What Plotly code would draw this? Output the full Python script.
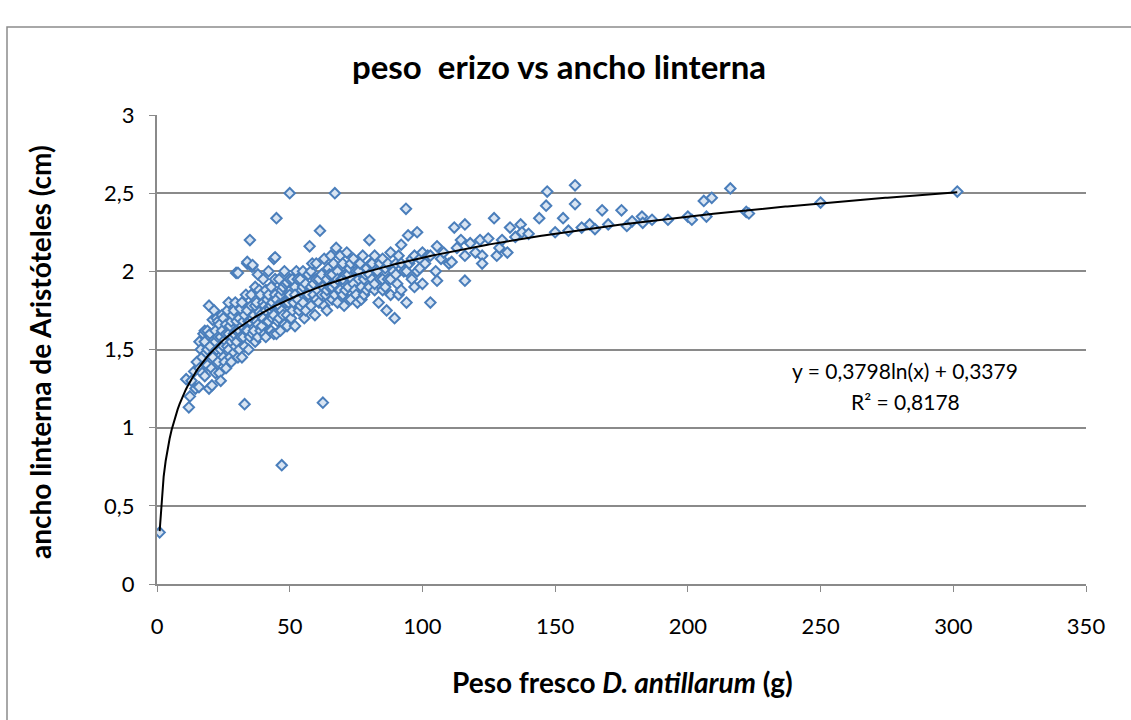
import numpy as np
import plotly.graph_objects as go

# (peso fresco g, ancho linterna cm)
puntos_bajos = [
    (1, 0.33), (11, 1.31), (12, 1.13), (12.4, 1.2), (13, 1.3), (14, 1.36), (14.5, 1.25),
    (15, 1.42), (15.8, 1.26), (16, 1.38), (16, 1.55), (16.5, 1.5), (17, 1.45), (17, 1.35),
    (17.5, 1.6), (18, 1.33), (18, 1.55), (18, 1.62), (18.5, 1.48), (19, 1.4), (19, 1.62),
    (19, 1.5), (19.6, 1.25), (19.6, 1.78), (20, 1.52), (20, 1.6), (20.5, 1.38), (20.7, 1.27),
]
puntos_densos = [
    (21, 1.69), (21, 1.45), (21.5, 1.56), (21.5, 1.75), (22, 1.35), (22, 1.62), (22, 1.55),
    (22.5, 1.5), (22.5, 1.7), (23, 1.42), (23, 1.58), (23, 1.68), (23.5, 1.66), (23.5, 1.35),
    (24, 1.3), (24, 1.5), (24, 1.58), (24.5, 1.62), (24.5, 1.72), (25, 1.45), (25, 1.7),
    (25, 1.52), (25.5, 1.56), (25.5, 1.42), (26, 1.38), (26, 1.6), (26, 1.66), (26.5, 1.75),
    (26.5, 1.52), (27, 1.5), (27, 1.8), (27, 1.6), (27.5, 1.65), (27.5, 1.45), (28, 1.42),
    (28, 1.55), (28, 1.68), (28.5, 1.72), (28.5, 1.58), (29, 1.6), (29, 1.48), (29, 1.75),
    (29.5, 1.8), (29.5, 1.52), (29.8, 1.99), (30, 1.55), (30, 1.68), (30, 1.62), (30.5, 1.99),
    (30.5, 1.45), (31, 1.62), (31, 1.5), (31, 1.7), (31.5, 1.76), (31.5, 1.58), (32, 1.45),
    (32, 1.65), (32, 1.8), (32.5, 1.58), (32.5, 1.68), (33, 1.15), (33, 1.72), (33, 1.52),
    (33.5, 1.85), (33.5, 1.62), (34, 1.62), (34, 2.05), (34, 1.75), (34, 2.06), (34.5, 1.5),
    (34.5, 1.68), (35, 1.68), (35, 2.2), (35, 1.58), (35.5, 1.78), (35.5, 1.85), (35.8, 2.03),
    (36, 1.6), (36, 2.04), (36, 1.7), (36.5, 1.72), (36.5, 1.62), (37, 1.55), (37, 1.9),
    (37, 1.78), (37.5, 1.8), (37.5, 1.68), (38, 1.66), (38, 1.98), (38, 1.58), (38.5, 1.74),
    (38.5, 1.88), (39, 1.62), (39, 1.85), (39, 1.72), (39.5, 1.65), (40, 1.7), (40, 1.95),
    (40, 1.8), (40.5, 1.78), (40.5, 1.6), (41, 1.58), (41, 1.88), (41, 1.75), (41.5, 1.82),
    (41.5, 1.68), (42, 1.68), (42, 2.0), (42, 1.85), (42.5, 1.76), (42.5, 1.62), (43, 1.62),
    (43, 1.9), (43, 1.78), (43.5, 1.8), (43.5, 1.7), (44, 1.72), (44, 2.08), (44, 1.6),
    (44.5, 1.85), (44.5, 1.95), (44.5, 2.09), (45, 1.6), (45, 2.34), (45, 1.82), (45.5, 1.78),
    (45.5, 1.68), (46, 1.7), (46, 1.95), (46, 1.78), (46.5, 1.85), (46.5, 1.62), (47, 0.76),
    (47, 1.75), (47, 1.88), (47.5, 1.9), (47.5, 1.72), (48, 1.66), (48, 2.0), (48, 1.8),
    (48.5, 1.8), (48.5, 1.92), (49, 1.72), (49, 1.93), (49, 1.65), (49.5, 1.8), (50, 2.5),
    (50, 1.85), (50, 1.95), (50.5, 1.7), (51, 1.95), (51, 1.75), (51.5, 1.8), (52, 1.9),
    (52, 1.65), (52, 1.85), (52.5, 2.0), (53, 1.82), (53, 1.95), (53.5, 1.75), (54, 1.95),
    (54, 1.78), (54.5, 1.88), (55, 1.8), (55, 2.0), (55, 1.9), (55.5, 1.7), (56, 1.92),
    (56, 1.75), (56.5, 1.85), (57, 1.98), (57, 1.85), (57.5, 2.16), (58, 1.78), (58, 1.9),
    (58, 2.0), (58.5, 2.05), (59, 1.85), (59, 1.92), (59.5, 1.72), (60, 1.95), (60, 2.05),
    (60, 1.82), (60.5, 1.88), (61, 1.8), (61, 1.95), (61.4, 2.26), (62, 1.98), (62, 1.85),
    (62.5, 1.16), (62.5, 1.9), (63, 2.08), (63, 1.78), (63.5, 1.85), (64, 1.95), (64, 1.75),
    (64, 1.88), (64.5, 2.02), (65, 1.9), (65, 1.98), (65.5, 2.1), (66, 1.82), (66, 1.98),
    (66, 1.9), (66.5, 2.05), (67, 2.5), (67, 1.92), (67, 1.85), (67.5, 2.15), (68, 1.8),
    (68, 2.0), (68, 1.95), (68.5, 1.88), (69, 2.1), (69, 1.88), (69.5, 1.95), (70, 1.85),
    (70, 2.05), (70, 1.95), (70.5, 1.78), (71, 1.98), (71, 1.88), (71.5, 2.12), (72, 1.9),
    (72, 1.98), (72.5, 2.02), (73, 1.82), (73, 2.05), (73.5, 1.95), (74, 2.08), (74, 1.92),
    (74.5, 1.88), (75, 2.0), (75, 1.85), (75.5, 1.8), (76, 1.95), (76, 2.0), (76.5, 2.05),
    (77, 1.9), (77, 1.82), (77.5, 2.1), (78, 1.85), (78, 1.95), (78.5, 1.98), (79, 2.02),
    (79, 1.88), (80, 2.2), (80, 1.9), (80, 1.98), (80.5, 2.05),
]
puntos_medios = [
    (81, 1.95), (81, 2.05), (82, 1.88), (82, 2.1), (82, 1.92), (83, 2.0), (83.5, 1.8),
    (84, 1.95), (84, 2.05), (85, 2.08), (85, 1.88), (85, 1.95), (86, 2.02), (86, 1.9),
    (86.5, 1.75), (87, 1.95), (87, 2.05), (88, 2.12), (88, 1.85), (88, 1.95), (89, 2.0),
    (89.5, 1.7), (90, 2.05), (90, 1.98), (90.5, 1.92), (91, 2.1), (91, 1.85), (92, 2.17),
    (92, 1.88), (92, 2.05), (93, 2.0), (93.8, 2.4), (94, 1.8), (94, 2.0), (94.6, 2.23),
    (95, 2.05), (96, 1.95), (96, 2.08), (97, 2.1), (97, 1.9), (98, 2.25), (98, 2.0),
    (99, 2.08), (99, 2.02), (100, 1.92), (100, 2.12), (101, 2.05), (102, 2.1), (103, 1.8),
    (103, 2.1), (105, 2.0), (105.5, 1.94), (105.5, 2.16), (107, 2.08), (108, 2.12),
    (110, 2.05), (111, 2.06), (112, 2.28), (113, 2.15), (114.5, 2.2), (116, 2.3),
    (116, 2.1), (116, 1.94), (118, 2.18), (120, 2.12), (121.7, 2.2), (122.5, 2.1),
    (122.5, 2.05), (124.8, 2.21), (127, 2.34), (128, 2.1), (129, 2.15), (130, 2.2),
    (132, 2.12), (133, 2.28), (135, 2.22), (137, 2.3), (137.5, 2.25), (140, 2.24),
]
puntos_altos = [
    (144, 2.34), (146.6, 2.42), (147, 2.51), (150, 2.25), (153, 2.34), (155, 2.26),
    (157.5, 2.55), (157.5, 2.43), (160, 2.28), (163, 2.3), (165, 2.27), (167.7, 2.39),
    (170, 2.3), (175, 2.39), (177, 2.29), (179, 2.32), (182.7, 2.35), (183, 2.31),
    (186.5, 2.33), (192.5, 2.33), (200, 2.35), (201.5, 2.33), (206, 2.45), (207, 2.35),
    (209, 2.47), (216, 2.53), (222, 2.38), (223, 2.37), (250, 2.44), (301.5, 2.51),
]

# trendline shown on the chart: y = a ln(x) + b
coef_a = 0.3798
coef_b = 0.3379
r2 = 0.8178

x_ticks = [0, 50, 100, 150, 200, 250, 300, 350]
y_ticks = [0, 0.5, 1, 1.5, 2, 2.5, 3]

todos = puntos_bajos + puntos_densos + puntos_medios + puntos_altos
peso = [p[0] for p in todos]
ancho = [p[1] for p in todos]

FONT = "Lato"
BLUE = "#4A7EBB"
GRID = "#8A8A8A"

fig = go.Figure()
fig.add_trace(go.Scatter(
    x=peso, y=ancho, mode="markers",
    marker=dict(symbol="diamond", size=8, color="#D8E4F2",
                line=dict(color=BLUE, width=2)),
    showlegend=False, hoverinfo="x+y",
))

xt = np.linspace(min(peso), max(peso), 400)
fig.add_trace(go.Scatter(
    x=xt, y=coef_a * np.log(xt) + coef_b, mode="lines",
    line=dict(color="black", width=2), showlegend=False, hoverinfo="skip",
))

L, R, T, B = 157, 45, 115, 136
W, H = 1131, 720
pw, ph = W - L - R, H - T - B


def px(xp):
    return (xp - L) / pw


def py(yp):
    return (H - B - yp) / ph


fig.update_layout(
    width=W, height=H,
    margin=dict(l=L, r=R, t=T, b=B),
    paper_bgcolor="white", plot_bgcolor="white",
    separators=",.",
    font=dict(family=FONT, color="black", size=22),
    xaxis=dict(range=[0, 350], tickvals=x_ticks, showgrid=False, zeroline=False,
               showline=True, linecolor=GRID, linewidth=2,
               ticks="outside", ticklen=6, tickcolor=GRID, tickwidth=1,
               ticklabelstandoff=16,
               tickfont=dict(size=22, family=FONT), fixedrange=True),
    yaxis=dict(range=[0, 3], tickvals=y_ticks, showgrid=True, gridcolor=GRID,
               gridwidth=1.5, zeroline=False,
               showline=True, linecolor=GRID, linewidth=2,
               ticks="outside", ticklen=6, tickcolor=GRID, tickwidth=1,
               ticklabelstandoff=10,
               tickfont=dict(size=22, family=FONT), fixedrange=True),
    shapes=[dict(type="rect", xref="paper", yref="paper",
                 x0=px(7), x1=px(1200), y0=py(800), y1=py(27),
                 line=dict(color="#8C8C8C", width=1.5), fillcolor="rgba(0,0,0,0)",
                 layer="below")],
    annotations=[
        dict(text="<b>peso  erizo vs ancho linterna</b>", x=px(559), y=py(66),
             xref="paper", yref="paper", showarrow=False,
             font=dict(size=33, family=FONT), xanchor="center", yanchor="middle"),
        dict(text="<b>ancho linterna de Aristóteles (cm)</b>", x=px(40), y=py(352),
             xref="paper", yref="paper", showarrow=False, textangle=-90,
             font=dict(size=28, family=FONT), xanchor="center", yanchor="middle"),
        dict(text="<b>Peso fresco <i>D. antillarum</i> (g)</b>", x=px(622), y=py(682),
             xref="paper", yref="paper", showarrow=False,
             font=dict(size=28, family=FONT), xanchor="center", yanchor="middle"),
        dict(text=f"y = {coef_a:.4f}ln(x) + {coef_b:.4f}".replace(".", ","),
             x=px(905), y=py(370), xref="paper", yref="paper", showarrow=False,
             font=dict(size=21, family=FONT), xanchor="center", yanchor="middle"),
        dict(text=f"R² = {r2:.4f}".replace(".", ","),
             x=px(905), y=py(401), xref="paper", yref="paper", showarrow=False,
             font=dict(size=21, family=FONT), xanchor="center", yanchor="middle"),
    ],
)

fig.write_html("out.html")
